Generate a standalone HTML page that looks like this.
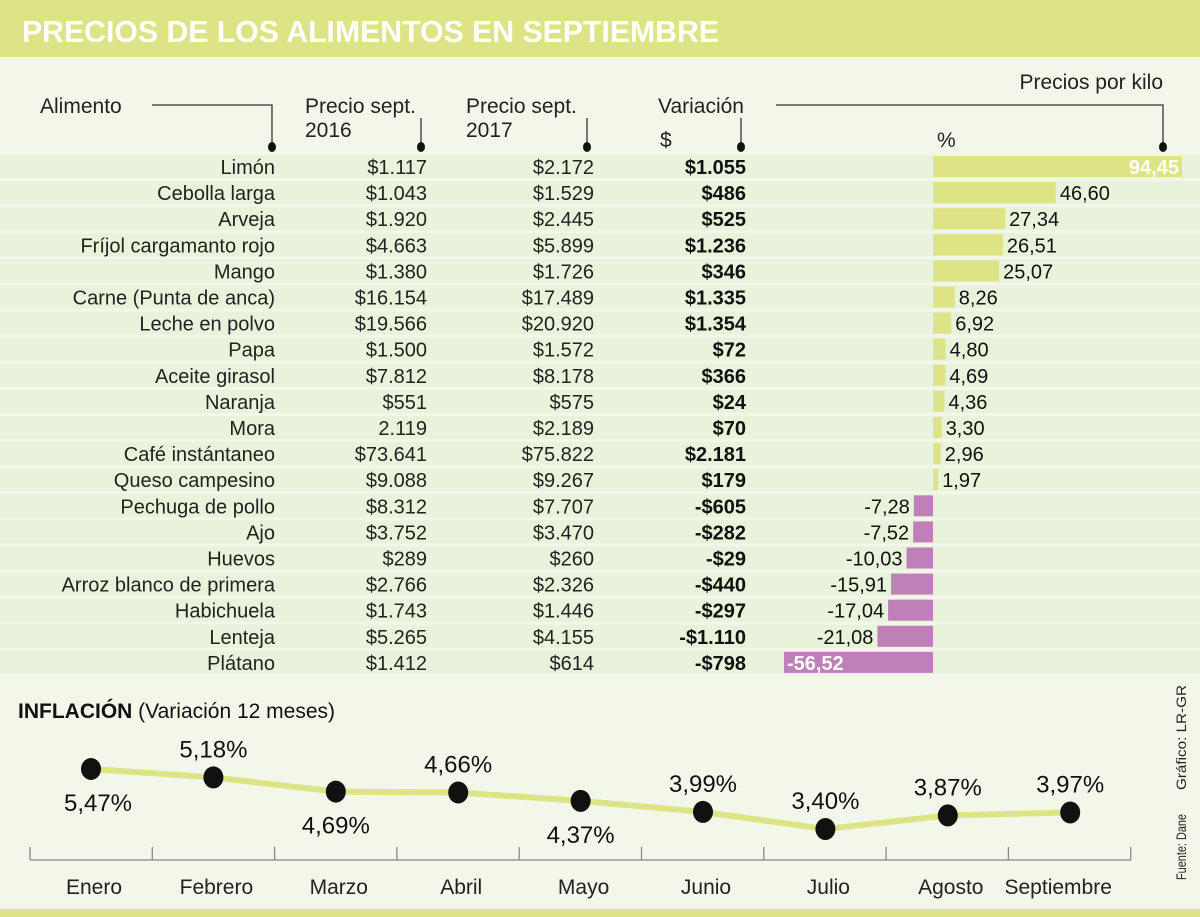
<!DOCTYPE html>
<html><head><meta charset="utf-8"><style>
html,body{margin:0;padding:0;background:#f2f7ea;}
svg{display:block;font-family:"Liberation Sans Narrow","Liberation Sans",sans-serif;}
</style></head><body>
<svg id="chart" width="1200" height="917" viewBox="0 0 1200 917">
<rect x="0" y="0" width="1200" height="917" fill="#f2f7ea"/>
<rect x="0" y="0" width="1200" height="57" fill="#dce486"/>
<text x="22" y="42" font-size="31" font-weight="bold" fill="#fff" textLength="697" lengthAdjust="spacingAndGlyphs">PRECIOS DE LOS ALIMENTOS EN SEPTIEMBRE</text>
<g id="hdr" font-size="21" fill="#222">
<text x="1163" y="89" text-anchor="end">Precios por kilo</text>
<text x="40" y="113">Alimento</text>
<text x="305" y="113">Precio sept.</text>
<text x="305" y="137">2016</text>
<text x="466" y="113">Precio sept.</text>
<text x="466" y="137">2017</text>
<text x="658" y="113">Variación</text>
<text x="660" y="147">$</text>
<text x="937" y="147">%</text>
</g>
<g stroke="#333" stroke-width="1.3" fill="none">
<polyline points="152,105 272,105 272,145"/>
<line x1="421" y1="118" x2="421" y2="145"/>
<line x1="587" y1="118" x2="587" y2="145"/>
<line x1="741" y1="118" x2="741" y2="145"/>
<polyline points="776,105 1163,105 1163,145"/>
</g>
<g fill="#111">
<ellipse cx="272" cy="147" rx="4" ry="5"/><ellipse cx="421" cy="147" rx="4" ry="5"/><ellipse cx="587" cy="147" rx="4" ry="5"/><ellipse cx="741" cy="147" rx="4" ry="5"/><ellipse cx="1163" cy="147" rx="4" ry="5"/>
</g>
<g id="rows"></g>
<text x="18" y="718" font-size="21" fill="#111"><tspan font-weight="bold">INFLACIÓN</tspan> (Variación 12 meses)</text>
<g id="line"></g>
<text transform="translate(1186,880) rotate(-90)" font-size="14" fill="#222" font-family="Liberation Sans, sans-serif" textLength="66" lengthAdjust="spacingAndGlyphs">Fuente: Dane</text>
<text transform="translate(1186,790) rotate(-90)" font-size="14" fill="#222" font-family="Liberation Sans, sans-serif" textLength="105" lengthAdjust="spacingAndGlyphs">Gráfico: LR-GR</text>
<rect x="0" y="909" width="1200" height="8" fill="#dce486"/>
</svg>
<script>
const foods=["Limón","Cebolla larga","Arveja","Fríjol cargamanto rojo","Mango","Carne (Punta de anca)","Leche en polvo","Papa","Aceite girasol","Naranja","Mora","Café instántaneo","Queso campesino","Pechuga de pollo","Ajo","Huevos","Arroz blanco de primera","Habichuela","Lenteja","Plátano"];
const price2016=["$1.117","$1.043","$1.920","$4.663","$1.380","$16.154","$19.566","$1.500","$7.812","$551","2.119","$73.641","$9.088","$8.312","$3.752","$289","$2.766","$1.743","$5.265","$1.412"];
const price2017=["$2.172","$1.529","$2.445","$5.899","$1.726","$17.489","$20.920","$1.572","$8.178","$575","$2.189","$75.822","$9.267","$7.707","$3.470","$260","$2.326","$1.446","$4.155","$614"];
const variacion=["$1.055","$486","$525","$1.236","$346","$1.335","$1.354","$72","$366","$24","$70","$2.181","$179","-$605","-$282","-$29","-$440","-$297","-$1.110","-$798"];
const pct=[94.45,46.60,27.34,26.51,25.07,8.26,6.92,4.80,4.69,4.36,3.30,2.96,1.97,-7.28,-7.52,-10.03,-15.91,-17.04,-21.08,-56.52];
const months=["Enero","Febrero","Marzo","Abril","Mayo","Junio","Julio","Agosto","Septiembre"];
const inflation=[5.47,5.18,4.69,4.66,4.37,3.99,3.40,3.87,3.97];
const labelAbove=[false,true,false,true,false,true,true,true,true];

const NS="http://www.w3.org/2000/svg";
function mk(tag,attrs,parent,text){const e=document.createElementNS(NS,tag);for(const k in attrs)e.setAttribute(k,attrs[k]);if(text!==undefined)e.textContent=text;parent.appendChild(e);return e;}
const fmt=v=>v.toFixed(2).replace('.',',');
const rowY=i=>155+i*26.1;
const zeroX=933, pxPer=2.636;
const bx=v=>zeroX+v*pxPer;
const rows=document.getElementById('rows');
foods.forEach((f,i)=>{
  const y=rowY(i);
  const g=mk('g',{},rows);
  
  
  const band=mk('rect',{x:0,y:y,width:1200,height:23,fill:'#e9f2db'},g);
  
  
  const ty=y+19;
  const t1=mk('text',{x:275,y:ty,'text-anchor':'end','font-size':20,fill:'#222'},g,f);
  
  
  const t2=mk('text',{x:427,y:ty,'text-anchor':'end','font-size':20,fill:'#222'},g,price2016[i]);
  
  
  const t3=mk('text',{x:594,y:ty,'text-anchor':'end','font-size':20,fill:'#222'},g,price2017[i]);
  
  
  const t4=mk('text',{x:746,y:ty,'text-anchor':'end','font-size':20,fill:'#111','font-weight':'bold'},g,variacion[i]);
  
  
  const v=pct[i];
  const x0=Math.min(bx(0),bx(v)), w=Math.abs(bx(v)-bx(0));
  const bar=mk('rect',{x:x0,y:y+1,width:w,height:21,fill:v>=0?'#dce486':'#bf7fb9'},g);
  
  
  let lbl;
  if(v>90){lbl=mk('text',{x:bx(v)-3,y:ty,'text-anchor':'end','font-size':20,fill:'#fff','font-weight':'bold'},g,fmt(v));}
  else if(v<-50){lbl=mk('text',{x:bx(v)+3,y:ty,'font-size':20,fill:'#fff','font-weight':'bold'},g,fmt(v));}
  else if(v>=0){lbl=mk('text',{x:bx(v)+4,y:ty,'font-size':20,fill:'#111'},g,fmt(v));}
  else{lbl=mk('text',{x:bx(v)-4,y:ty,'text-anchor':'end','font-size':20,fill:'#111'},g,fmt(v));}
  
  
});
const L=document.getElementById('line');
const mx=i=>91+i*122.4;
const my=v=>769+(5.47-v)*29;
const axis=mk('line',{x1:30,y1:860,x2:1131,y2:860,stroke:'#888','stroke-width':1.3},L);


for(let k=0;k<=months.length;k++){
  const tx=30+k*122.3;
  const tk=mk('line',{x1:tx,y1:847,x2:tx,y2:860,stroke:'#888','stroke-width':1.3},L);
  
  
}
const pl=mk('polyline',{points:inflation.map((v,i)=>mx(i)+','+my(v)).join(' '),fill:'none',stroke:'#dce486','stroke-width':6},L);


inflation.forEach((v,i)=>{
  const c=mk('ellipse',{cx:mx(i),cy:my(v),rx:10,ry:11,fill:'#111'},L);
  
  
  const ly=labelAbove[i]?my(v)-20:my(v)+42;
  const t=mk('text',{x:mx(i)+(i==0?7:0),y:ly,'text-anchor':'middle','font-size':24,fill:'#111'},L,fmt(v)+'%');
  
  
  const m=mk('text',{x:mx(i)+(i==8?-12:3),y:894,'text-anchor':'middle','font-size':21,fill:'#222'},L,months[i]);
  
  
});
</script>
</body></html>
